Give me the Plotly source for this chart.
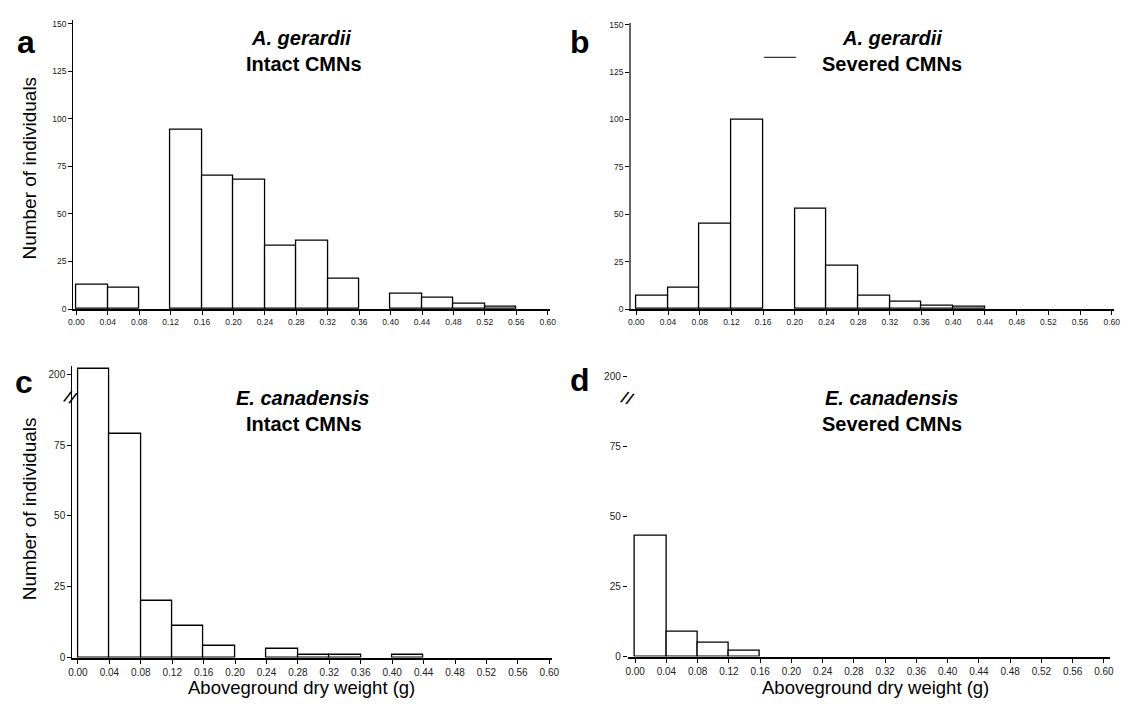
import plotly.graph_objects as go

W, H = 1133, 704

# ---- data ----
bin_left = [0.00, 0.04, 0.08, 0.12, 0.16, 0.20, 0.24, 0.28, 0.32, 0.36, 0.40, 0.44, 0.48, 0.52, 0.56]
bin_width = 0.04
a_counts = [13, 11, 0, 94, 70, 68, 33, 36, 16, 0, 8, 6, 3, 1, 0]    # A. gerardii, intact
b_counts = [7, 11, 45, 100, 0, 53, 23, 7, 4, 2, 1, 0, 0, 0, 0]      # A. gerardii, severed
c_counts = [202, 79, 20, 11, 4, 0, 3, 1, 1, 0, 1, 0, 0, 0, 0]       # E. canadensis, intact
d_counts = [43, 9, 5, 2, 0, 0, 0, 0, 0, 0, 0, 0, 0, 0, 0]           # E. canadensis, severed

x_ticks = [0.00, 0.04, 0.08, 0.12, 0.16, 0.20, 0.24, 0.28, 0.32, 0.36, 0.40, 0.44, 0.48, 0.52, 0.56, 0.60]
y_ticks_top = [0, 25, 50, 75, 100, 125, 150]
y_ticks_bottom = [0, 25, 50, 75, 100]
y_text_bottom = ["0", "25", "50", "75", "200"]

FONT = "Liberation Sans"


def broken(v):
    # broken axis: 200 is drawn where 100 would be
    return v if v < 150 else 100 + (v - 200)


def px_x(p):
    return p / W


def px_y(p):
    return 1 - p / H


def nz(vals):
    # empty bins are not drawn (no outline on the baseline)
    return [v if v else None for v in vals]


centers = [b + bin_width / 2 for b in bin_left]

fig = go.Figure()
panels = [
    ("x", "y", a_counts),
    ("x2", "y2", b_counts),
    ("x3", "y3", [broken(v) for v in c_counts]),
    ("x4", "y4", d_counts),
]
for xa, ya, vals in panels:
    fig.add_trace(go.Bar(
        x=centers, y=nz(vals), width=[bin_width] * len(vals), xaxis=xa, yaxis=ya,
        marker=dict(color="white", line=dict(color="black", width=1.3)),
        showlegend=False, hoverinfo="skip",
    ))

x_common = dict(
    tickmode="array", tickvals=x_ticks, ticktext=[f"{t:.2f}" for t in x_ticks],
    showgrid=False, zeroline=False, showline=True, linecolor="black", linewidth=2,
    ticks="outside", ticklen=4, tickcolor="black", tickwidth=1, layer="above traces",
)
y_common = dict(showgrid=False, zeroline=False, ticks="outside", ticklen=4, tickcolor="black", tickwidth=1)

top_tickfont = dict(family=FONT, size=8.5, color="#222")
bot_tickfont = dict(family=FONT, size=10, color="#222")

fig.update_layout(
    width=W, height=H, margin=dict(l=0, r=0, t=0, b=0),
    paper_bgcolor="white", plot_bgcolor="white", bargap=0,
    xaxis=dict(domain=[px_x(69), px_x(551)], range=[-0.004, 0.6025], anchor="y", tickfont=top_tickfont, **x_common),
    yaxis=dict(domain=[px_y(310), px_y(17)], range=[0, 152], anchor="x", tickvals=y_ticks_top,
               showline=True, linecolor="black", linewidth=1, tickfont=top_tickfont, **y_common),
    xaxis2=dict(domain=[px_x(633.5), px_x(1122)], range=[-0.0064, 0.603], anchor="y2", tickfont=top_tickfont, **x_common),
    yaxis2=dict(domain=[px_y(310), px_y(20)], range=[0, 151], anchor="x2", tickvals=y_ticks_top,
                showline=True, linecolor="#666", linewidth=2, tickfont=top_tickfont, **y_common),
    xaxis3=dict(domain=[px_x(68), px_x(553)], range=[-0.0073, 0.603], anchor="y3", tickfont=bot_tickfont, **x_common),
    yaxis3=dict(domain=[px_y(663), px_y(367.6)], range=[0, 103], anchor="x3", tickvals=y_ticks_bottom,
                ticktext=y_text_bottom, showline=True, linecolor="black", linewidth=1,
                tickfont=bot_tickfont, **y_common),
    xaxis4=dict(domain=[px_x(630), px_x(1118)], range=[-0.0095, 0.608], anchor="y4", tickfont=bot_tickfont, **x_common),
    yaxis4=dict(domain=[px_y(662), px_y(369.5)], range=[0, 103], anchor="x4", tickvals=y_ticks_bottom,
                ticktext=y_text_bottom, showline=False, tickfont=bot_tickfont, **y_common),
)

ann = []


def text(x, y, s, size, bold=False, angle=0, family=FONT):
    ann.append(dict(
        x=px_x(x), y=px_y(y), xref="paper", yref="paper", text=(f"<b>{s}</b>" if bold else s),
        showarrow=False, textangle=angle, xanchor="center", yanchor="middle",
        font=dict(family=family, size=size, color="black"),
    ))


# panel letters
text(21, 40, "a", 32, bold=True)
text(582, 40, "b", 32, bold=True)
text(19, 384, "c", 32, bold=True)
text(582, 382, "d", 32, bold=True)

# panel titles
text(299, 35, "<i>A. gerardii</i>", 20, bold=True)
text(302, 62, "Intact CMNs", 20, bold=True)
text(897, 35, "<i>A. gerardii</i>", 20, bold=True)
text(897, 62, "Severed CMNs", 20, bold=True)
text(301, 400, "<i>E. canadensis</i>", 20, bold=True)
text(302, 426, "Intact CMNs", 20, bold=True)
text(897, 400, "<i>E. canadensis</i>", 20, bold=True)
text(897, 426, "Severed CMNs", 20, bold=True)

# axis titles
text(25, 167, "Number of individuals", 19, angle=-90)
text(25, 512, "Number of individuals", 19, angle=-90)
text(300, 693, "Aboveground dry weight (g)", 18.5)
text(881, 693, "Aboveground dry weight (g)", 18.5)

# axis-break marks
text(66, 399, "//", 15, bold=True, angle=20, family="DejaVu Sans")
text(630, 400, "//", 15, bold=True, angle=20, family="DejaVu Sans")

fig.update_layout(annotations=ann)

# short stray line beside the panel b title
fig.add_shape(type="line", xref="paper", yref="paper",
              x0=px_x(768), x1=px_x(800), y0=px_y(55), y1=px_y(55),
              line=dict(color="black", width=1))

fig.write_html("out.html")
